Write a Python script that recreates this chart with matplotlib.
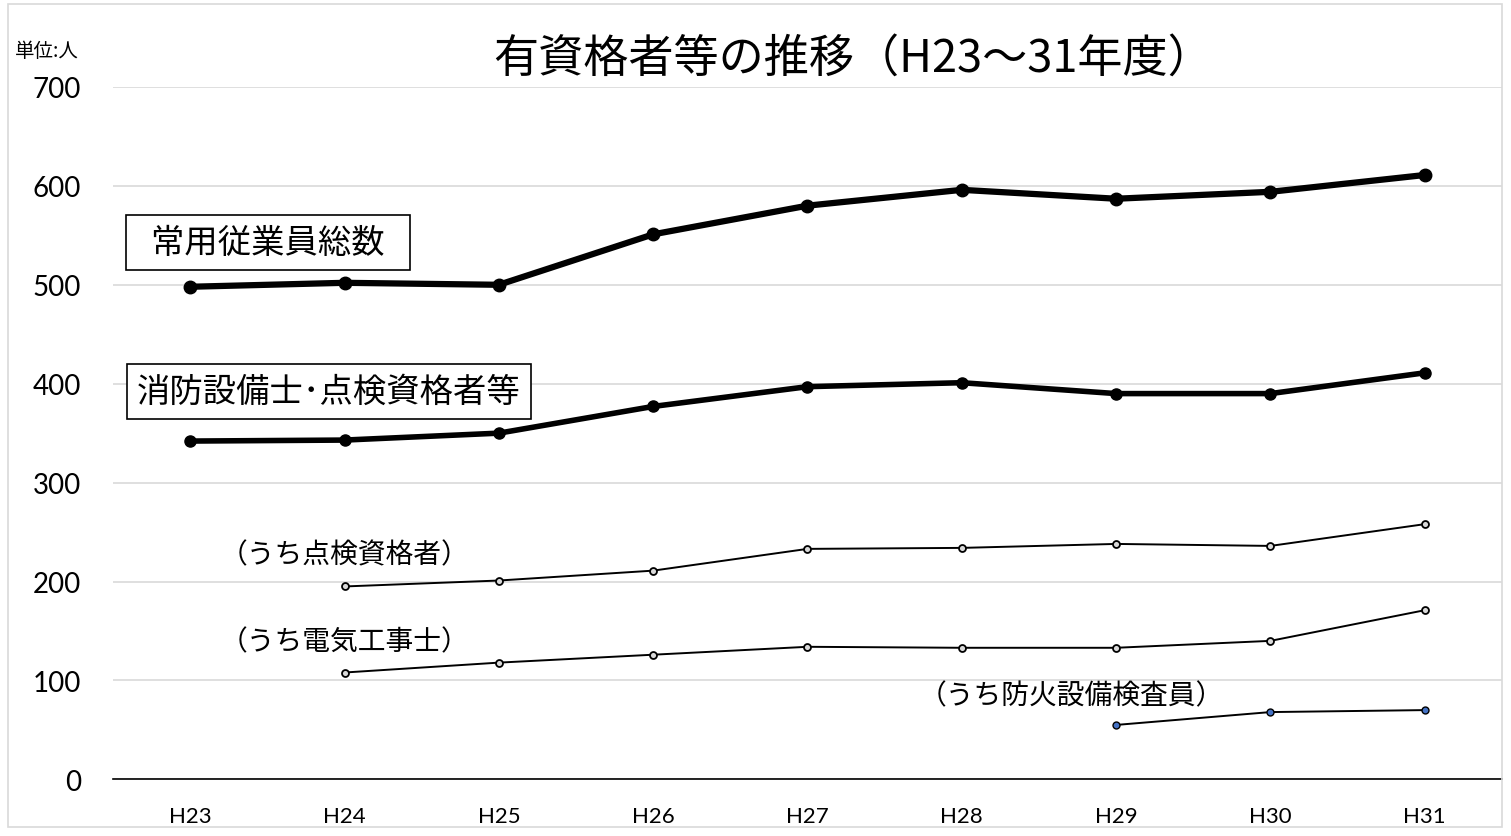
import matplotlib
matplotlib.use('Agg')
import matplotlib.pyplot as plt
from matplotlib.patches import Rectangle
import numpy as np

plt.rcParams['font.family'] = ['Noto Sans CJK JP', 'DejaVu Sans']

years = ['H23', 'H24', 'H25', 'H26', 'H27', 'H28', 'H29', 'H30', 'H31']
total = [498, 502, 500, 551, 580, 596, 587, 594, 611]
qualified = [342, 343, 350, 377, 397, 401, 390, 390, 411]
# sub series start later, None = no data
inspect = [None, 195, 201, 211, 233, 234, 238, 236, 258]
electric = [None, 108, 118, 126, 134, 133, 133, 140, 171]
fire = [None, None, None, None, None, None, 55, 68, 70]

yticks = [0, 100, 200, 300, 400, 500, 600, 700]

def arr(v):
    return np.array([np.nan if a is None else a for a in v], dtype=float)

fig = plt.figure(figsize=(15.11, 8.37), dpi=100)
ax = fig.add_axes([0.0748, 0.0677, 0.9192, 0.8272])

x = np.arange(len(years))
ax.plot(x, total, color='black', lw=4.5, marker='o', ms=9, zorder=5)
ax.plot(x, qualified, color='black', lw=4.0, marker='o', ms=8, zorder=5)
ax.plot(x, arr(inspect), color='black', lw=1.4, marker='o', ms=5,
        mfc='#d9d9d9', mec='black', mew=1.3, zorder=5)
ax.plot(x, arr(electric), color='black', lw=1.4, marker='o', ms=5,
        mfc='#d9d9d9', mec='black', mew=1.3, zorder=5)
ax.plot(x, arr(fire), color='black', lw=1.4, marker='o', ms=5,
        mfc='#4472c4', mec='black', mew=1.0, zorder=5)

ax.set_xlim(-0.5, len(years) - 0.5)
ax.set_ylim(0, 700)
ax.set_yticks(yticks)
ax.set_xticks(x)
ax.set_xticklabels(years, family=['Lato', 'DejaVu Sans'], fontsize=16)
ax.set_yticklabels([str(t) for t in yticks], family=['Lato', 'DejaVu Sans'], fontsize=20)
ax.tick_params(axis='both', length=0)
ax.tick_params(axis='x', pad=19)
ax.tick_params(axis='y', pad=23)
ax.grid(axis='y', color='#d9d9d9', lw=1.2)
ax.set_axisbelow(True)
for s in ['top', 'right', 'left']:
    ax.spines[s].set_visible(False)
ax.spines['bottom'].set_color('black')
ax.spines['bottom'].set_linewidth(1.2)

fig.text(0.5645, 0.93, '有資格者等の推移（H23～31年度）', fontsize=32.5,
         ha='center', va='center')
fig.text(0.01, 0.938, '単位:人', fontsize=14, ha='left', va='center')

ax.text(-0.35, 543, '  常用従業員総数  ', fontsize=24, ha='left', va='center',
        bbox=dict(boxstyle='square,pad=0.3', fc='white', ec='black', lw=1.2))
ax.text(-0.345, 392, '消防設備士･点検資格者等', fontsize=24, ha='left', va='center',
        bbox=dict(boxstyle='square,pad=0.3', fc='white', ec='black', lw=1.2))
ax.text(0.19, 227, '（うち点検資格者）', fontsize=20, ha='left', va='center')
ax.text(0.19, 140, '（うち電気工事士）', fontsize=20, ha='left', va='center')
ax.text(4.72, 85, '（うち防火設備検査員）', fontsize=20, ha='left', va='center')

fig.patches.append(Rectangle((0.005, 0.011), 0.989, 0.983, transform=fig.transFigure,
                             fill=False, ec='#d9d9d9', lw=1.2))

fig.savefig('out.png', dpi=100)
